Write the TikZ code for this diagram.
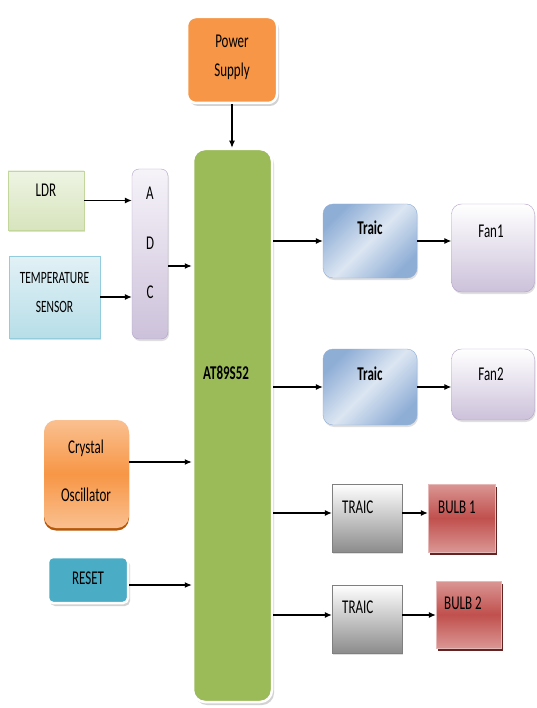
\documentclass[tikz,border=0pt]{standalone}
\usepackage{fontspec}
\setmainfont{Carlito}
\usetikzlibrary{arrows.meta,shadows}

\definecolor{pwrorange}{HTML}{F79646}
\definecolor{lightorange}{HTML}{FAC090}
\definecolor{darkorange}{HTML}{B65708}
\definecolor{mcugreen}{HTML}{9BBB59}
\definecolor{ldrtop}{HTML}{EEF4E3}
\definecolor{ldrbot}{HTML}{D7E4BD}
\definecolor{ldrline}{HTML}{C3D69B}
\definecolor{temptop}{HTML}{E2F1F6}
\definecolor{tempbot}{HTML}{B7DEE8}
\definecolor{templine}{HTML}{93CDDD}
\definecolor{lavtop}{HTML}{F6F3F9}
\definecolor{lavbot}{HTML}{CCC1DA}
\definecolor{lavline}{HTML}{B3A2C7}
\definecolor{blueedge}{HTML}{8FAED6}
\definecolor{bluemid}{HTML}{DCE6F2}
\definecolor{grayline}{HTML}{7F7F7F}
\definecolor{graybot}{HTML}{8C8C8C}
\definecolor{bulbred}{HTML}{C0504D}
\definecolor{bulblight}{HTML}{DA9694}
\definecolor{bulbline}{HTML}{E6B9B8}
\definecolor{bulbdark}{HTML}{632523}
\definecolor{resetblue}{HTML}{4BACC6}

\newcommand{\talltext}[1]{\scalebox{1}[1.5]{#1}}

\begin{document}
\begin{tikzpicture}[x=1pt, y=-1pt,
    blk/.style={rectangle, inner sep=0pt},
    framed/.style={draw=white, line width=2.5pt,
        drop shadow={shadow xshift=2pt, shadow yshift=-3pt, fill=black!35, opacity=0.5}},
    soft/.style={drop shadow={shadow xshift=1pt, shadow yshift=-2pt, fill=black!25, opacity=0.5}},
    arr/.style={-{Latex[length=7pt,width=6pt]}, line width=1.1pt},
    txt/.style={anchor=base, inner sep=0pt, font=\fontsize{13}{15}\selectfont},
    txtl/.style={txt, anchor=base west}]

    \useasboundingbox (0,0) rectangle (536,708);

    % Blocks
    \node [blk, framed, rounded corners=9pt, fill=pwrorange,
        minimum width=90pt, minimum height=86pt] (pwr) at (232,60) {};
    \node [blk, framed, rounded corners=12pt, fill=mcugreen,
        minimum width=79pt, minimum height=553pt] (mcu) at (232.5,425.5) {};
    \node [blk, draw=ldrline, top color=ldrtop, bottom color=ldrbot, soft,
        minimum width=76pt, minimum height=59pt] (ldr) at (46,200.5) {};
    \node [blk, draw=templine, top color=temptop, bottom color=tempbot, soft,
        minimum width=91pt, minimum height=82pt] (temp) at (54.5,297) {};
    \node [blk, draw=lavline, top color=lavtop, bottom color=lavbot, soft, rounded corners=7pt,
        minimum width=36pt, minimum height=170pt] (adc) at (150,254) {};
    \node [blk, draw=blueedge, top color=blueedge, bottom color=blueedge, middle color=bluemid,
        shading angle=225, soft, rounded corners=10pt,
        minimum width=94pt, minimum height=74pt] (trb1) at (370,241) {};
    \node [blk, draw=lavline, top color=white, bottom color=lavbot, soft, rounded corners=10pt,
        minimum width=83pt, minimum height=88pt] (fan1) at (493,248) {};
    \node [blk, draw=blueedge, top color=blueedge, bottom color=blueedge, middle color=bluemid,
        shading angle=225, soft, rounded corners=10pt,
        minimum width=94pt, minimum height=76pt] (trb2) at (370,387) {};
    \node [blk, draw=lavline, top color=white, bottom color=lavbot, soft, rounded corners=10pt,
        minimum width=83pt, minimum height=71pt] (fan2) at (493,384.5) {};
    \node [blk, draw=grayline, top color=white, bottom color=graybot, soft,
        minimum width=70pt, minimum height=68pt] (trg1) at (367,518) {};
    \node [blk, draw=bulbline, top color=bulblight, bottom color=bulblight, middle color=bulbred,
        drop shadow={shadow xshift=2pt, shadow yshift=-3pt, fill=bulbdark, opacity=1},
        minimum width=67pt, minimum height=68pt] (bulb1) at (461.5,518) {};
    \node [blk, draw=grayline, top color=white, bottom color=graybot, soft,
        minimum width=70pt, minimum height=68pt] (trg2) at (367,619) {};
    \node [blk, draw=bulbline, top color=bulblight, bottom color=bulblight, middle color=bulbred,
        drop shadow={shadow xshift=2pt, shadow yshift=-3pt, fill=bulbdark, opacity=1},
        minimum width=65pt, minimum height=67pt] (bulb2) at (468.5,614.5) {};
    \node [blk, top color=lightorange, bottom color=lightorange, middle color=pwrorange,
        rounded corners=12pt,
        drop shadow={shadow xshift=0pt, shadow yshift=-2.5pt, fill=darkorange, opacity=1},
        minimum width=85pt, minimum height=108pt] (xtal) at (86.5,474) {};
    \node [blk, framed, rounded corners=5pt, fill=resetblue,
        minimum width=80pt, minimum height=46pt] (reset) at (88,580) {};

    % Labels
    \node [txt] (lpwr1) at (232,48) {\talltext{Power}};
    \node [txt] (lpwr2) at (232,77) {\talltext{Supply}};
    \node [txt] (lldr) at (46,197) {\talltext{LDR}};
    \node [txt, font=\fontsize{11.5}{14}\selectfont] (ltemp1) at (54.5,283) {\talltext{TEMPERATURE}};
    \node [txt, font=\fontsize{11.5}{14}\selectfont] (ltemp2) at (54.5,312) {\talltext{SENSOR}};
    \node [txt] (ladc1) at (150,200) {\talltext{A}};
    \node [txt] (ladc2) at (150,250) {\talltext{D}};
    \node [txt] (ladc3) at (150,298) {\talltext{C}};
    \node [txtl] (lmcu) at (203,379) {\talltext{\bfseries AT89S52}};
    \node [txt] (ltrb1) at (370,235) {\talltext{\bfseries Traic}};
    \node [txt] (lfan1) at (491,237) {\talltext{Fan1}};
    \node [txt] (ltrb2) at (370,380) {\talltext{\bfseries Traic}};
    \node [txt] (lfan2) at (491,380) {\talltext{Fan2}};
    \node [txtl] (ltrg1) at (342,513) {\talltext{TRAIC}};
    \node [txtl] (lbulb1) at (438,513) {\talltext{BULB 1}};
    \node [txtl] (ltrg2) at (342,613) {\talltext{TRAIC}};
    \node [txtl] (lbulb2) at (444,609) {\talltext{BULB 2}};
    \node [txt] (lxtal1) at (86,453) {\talltext{Crystal}};
    \node [txt] (lxtal2) at (86,501) {\talltext{Oscillator}};
    \node [txt] (lreset) at (88,584) {\talltext{RESET}};

    % Connectors
    \coordinate (inadc) at ([yshift=-12pt]adc.east);
    \coordinate (inxtal) at ([yshift=12pt]xtal.east);
    \coordinate (inreset) at ([yshift=-5pt]reset.east);
    \coordinate (intrg1) at ([yshift=5pt]trg1.west);
    \coordinate (intrg2) at ([yshift=4pt]trg2.west);

    \draw [arr] (pwr.south) -- (pwr.south |- mcu.north);
    \draw [arr] (ldr.east) -- (ldr.east -| adc.west);
    \draw [arr] (temp.east) -- (temp.east -| adc.west);
    \draw [arr] (inadc) -- (inadc -| mcu.west);
    \draw [arr] (inxtal) -- (inxtal -| mcu.west);
    \draw [arr] (inreset) -- (inreset -| mcu.west);
    \draw [arr] (mcu.east |- trb1.west) -- (trb1.west);
    \draw [arr] (trb1.east) -- (trb1.east -| fan1.west);
    \draw [arr] (mcu.east |- trb2.west) -- (trb2.west);
    \draw [arr] (trb2.east) -- (trb2.east -| fan2.west);
    \draw [arr] (mcu.east |- intrg1) -- (intrg1);
    \draw [arr] (intrg1 -| trg1.east) -- (intrg1 -| bulb1.west);
    \draw [arr] (mcu.east |- intrg2) -- (intrg2);
    \draw [arr] (intrg2 -| trg2.east) -- (intrg2 -| bulb2.west);

\end{tikzpicture}
\end{document}
